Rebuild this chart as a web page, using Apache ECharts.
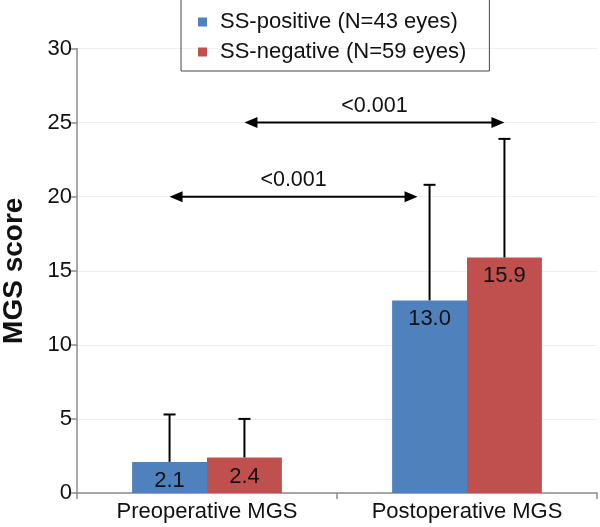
<!DOCTYPE html>
<html>
<head>
<meta charset="utf-8">
<script src="https://cdn.jsdelivr.net/npm/echarts@6/dist/echarts.min.js"></script>
<style>html,body{margin:0;padding:0;background:#fff;}#c{width:600px;height:527px;}</style>
</head>
<body>
<div id="c"></div>
<script>
const categories = ['Preoperative MGS', 'Postoperative MGS'];
const seriesNames = ['SS-positive (N=43 eyes)', 'SS-negative (N=59 eyes)'];
const positiveMeans = [2.1, 13.0];
const negativeMeans = [2.4, 15.9];
const positiveSD = [3.2, 7.8];
const negativeSD = [2.6, 8.0];
const yTicks = [0, 5, 10, 15, 20, 25, 30];
// comparison arrows: from [category, seriesIndex] to [category, seriesIndex] at y level
const arrowFromCat = [0, 0];
const arrowFromSeries = [0, 1];
const arrowToCat = [1, 1];
const arrowToSeries = [0, 1];
const arrowLevel = [20, 25];
const pLabels = ['<0.001', '<0.001'];

const FONT = "'Liberation Sans', Arial, sans-serif";
const colors = ['#4F81BD', '#C0504D'];
const BAR_FRAC = 0.288;
const means = [positiveMeans, negativeMeans];
const sds = [positiveSD, negativeSD];

function barX(api, cat, s) {
  const center = api.coord([cat, 0])[0];
  const band = api.size([1, 0])[0];
  return center + (s === 0 ? -1 : 1) * band * BAR_FRAC / 2;
}

const errData = [];
for (let s = 0; s < 2; s++) for (let c = 0; c < categories.length; c++) {
  errData.push([c, means[s][c], means[s][c] + sds[s][c], s]);
}
const arrowData = arrowLevel.map((y, i) => [arrowFromCat[i], arrowFromSeries[i], arrowToCat[i], arrowToSeries[i], y, i]);

const chart = echarts.init(document.getElementById('c'));
chart.setOption({
  animation: false,
  textStyle: { fontFamily: FONT },
  grid: { left: 77, right: 3, top: 48.5, bottom: 34, containLabel: false, outerBoundsMode: 'none' },
  legend: {
    data: seriesNames,
    orient: 'vertical',
    left: 181,
    top: -2,
    itemGap: 8,
    itemWidth: 9,
    itemHeight: 9,
    icon: 'rect',
    borderColor: '#444',
    borderWidth: 1,
    padding: [13, 23, 8, 17],
    textStyle: { fontSize: 22, color: '#111', fontFamily: FONT, padding: [0, 0, 0, 8] }
  },
  xAxis: {
    type: 'category',
    data: categories,
    axisLine: { lineStyle: { color: '#8c8c8c', width: 1.5 } },
    axisTick: { show: true, length: 6, lineStyle: { color: '#8c8c8c', width: 1.5 } },
    axisLabel: { fontSize: 22, color: '#111', margin: 8, fontFamily: FONT },
    splitLine: { show: false }
  },
  yAxis: {
    type: 'value',
    min: yTicks[0],
    max: yTicks[yTicks.length - 1],
    interval: yTicks[1] - yTicks[0],
    name: 'MGS score',
    nameLocation: 'middle',
    nameGap: 49,
    nameTextStyle: { fontSize: 28, fontWeight: 'bold', color: '#111', fontFamily: FONT },
    axisLine: { show: true, lineStyle: { color: '#8c8c8c', width: 1.5 } },
    axisTick: { show: true, length: 8, lineStyle: { color: '#8c8c8c', width: 1.5 } },
    axisLabel: { fontSize: 22, color: '#111', margin: 5, fontFamily: FONT },
    splitLine: { show: true, lineStyle: { color: '#efefef', width: 1 } }
  },
  series: [
    {
      name: seriesNames[0], type: 'bar', data: positiveMeans, barWidth: (BAR_FRAC * 100) + '%', barGap: '0%',
      itemStyle: { color: colors[0] },
      label: { show: true, position: 'insideTop', distance: 8, fontSize: 22, color: '#111', fontFamily: FONT,
        formatter: p => p.value.toFixed(1) },
      z: 2
    },
    {
      name: seriesNames[1], type: 'bar', data: negativeMeans, barWidth: (BAR_FRAC * 100) + '%', barGap: '0%',
      itemStyle: { color: colors[1] },
      label: { show: true, position: 'insideTop', distance: 8, fontSize: 22, color: '#111', fontFamily: FONT,
        formatter: p => p.value.toFixed(1) },
      z: 2
    },
    {
      type: 'custom', name: 'err', data: errData, z: 3, silent: true,
      renderItem: function (params, api) {
        const c = api.value(0), s = api.value(3);
        const x = barX(api, c, s);
        const y0 = api.coord([c, api.value(1)])[1];
        const y1 = api.coord([c, api.value(2)])[1];
        const st = { stroke: '#000', lineWidth: 2 };
        return { type: 'group', children: [
          { type: 'line', shape: { x1: x, y1: y0, x2: x, y2: y1 }, style: st },
          { type: 'line', shape: { x1: x - 6, y1: y1, x2: x + 6, y2: y1 }, style: st }
        ]};
      }
    },
    {
      type: 'custom', name: 'arrows', data: arrowData, z: 4, silent: true,
      renderItem: function (params, api) {
        const fc = api.value(0), fs = api.value(1), tc = api.value(2), ts = api.value(3), lvl = api.value(4), i = api.value(5);
        const y = api.coord([0, lvl])[1];
        let x1 = barX(api, fc, fs);
        let x2 = barX(api, tc, ts);
        // shorten the tip if the target's error bar crosses the arrow level
        if (means[ts][tc] + sds[ts][tc] > lvl) x2 -= 12;
        if (means[fs][fc] + sds[fs][fc] > lvl) x1 += 12;
        const hl = 13, hw = 5.5;
        return { type: 'group', children: [
          { type: 'line', shape: { x1: x1 + hl - 2, y1: y, x2: x2 - hl + 2, y2: y }, style: { stroke: '#000', lineWidth: 2 } },
          { type: 'polygon', shape: { points: [[x1, y], [x1 + hl, y - hw], [x1 + hl, y + hw]] }, style: { fill: '#000' } },
          { type: 'polygon', shape: { points: [[x2, y], [x2 - hl, y - hw], [x2 - hl, y + hw]] }, style: { fill: '#000' } },
          { type: 'text', style: { text: pLabels[i], x: (x1 + x2) / 2, y: y - 6, align: 'center', verticalAlign: 'bottom',
            font: '21.5px ' + FONT, fill: '#111' } }
        ]};
      }
    }
  ]
});
</script>
</body>
</html>
